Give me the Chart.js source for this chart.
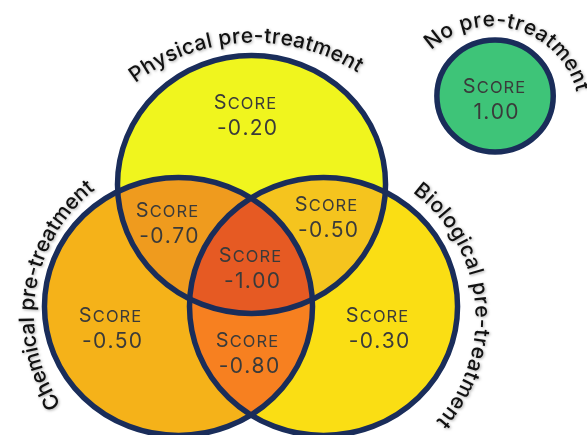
<!DOCTYPE html>
<html>
<head>
<meta charset="utf-8">
<script src="https://cdn.jsdelivr.net/npm/chart.js@4.4.1/dist/chart.umd.min.js"></script>
<style>
  html, body { margin: 0; padding: 0; background: #ffffff; }
  #wrap { width: 587px; height: 435px; position: relative; }
</style>
</head>
<body>
<div id="wrap"><canvas id="c"></canvas></div>
<script>
// ---- data ----
const setNames = ['Physical pre-treatment', 'Chemical pre-treatment', 'Biological pre-treatment', 'No pre-treatment'];
const setX = [242.1, 171.8, 311.4, 476.5];
const setY = [184.5, 306.5, 306.5, 96];
const setR = [129, 129, 129, 56];

const regionNames = ['Physical only', 'Chemical only', 'Biological only', 'Physical + Chemical',
  'Physical + Biological', 'Chemical + Biological', 'All three', 'None'];
const regionSets = [[0], [1], [2], [0, 1], [0, 2], [1, 2], [0, 1, 2], [3]];
const regionScores = [-0.20, -0.50, -0.30, -0.70, -0.50, -0.80, -1.00, 1.00];
const scoreWord = 'Score';

// ---- layout / style (kept apart from data) ----
const labelX = [235.8, 105.9, 362.9, 160.7, 313.8, 237.7, 240.6, 475.5];
const labelY = [109, 322, 322, 217, 211, 347, 262, 93];
const regionColors = ['#f0f51e', '#f5b219', '#fade14', '#ef9b1e', '#f5c41e', '#f78020', '#e65a23', '#3ec478'];
// arc for each set name: centre (data coords), radius (px), first / last glyph angle (deg)
const arcCX = [244.3, 186.8, 307.9, 473.0];
const arcCY = [236.3, 315.4, 317.7, 114.4];
const arcR = [200, 166.5, 162, 94.4];
const arcStart = [-125.7, 148.8, -51, -128];
const arcEnd = [-58.6, 230.6, 40.5, -17];

const vennPlugin = {
  id: 'venn',
  afterDatasetsDraw(chart) {
    const ctx = chart.ctx;
    const xs = chart.scales.x, ys = chart.scales.y;
    const E = setX.map((x, i) => ({
      cx: xs.getPixelForValue(x),
      cy: ys.getPixelForValue(setY[i]),
      rx: xs.getPixelForValue(x + setR[i]) - xs.getPixelForValue(x),
      ry: ys.getPixelForValue(setY[i] + setR[i]) - ys.getPixelForValue(setY[i])
    }));
    const path = (e) => { ctx.beginPath(); ctx.ellipse(e.cx, e.cy, e.rx, e.ry, 0, 0, Math.PI * 2); };

    // region fills
    const order = regionSets.map((s, i) => i).sort((a, b) => regionSets[a].length - regionSets[b].length);
    order.forEach(i => {
      const s = regionSets[i];
      ctx.save();
      for (let k = 0; k < s.length - 1; k++) { path(E[s[k]]); ctx.clip(); }
      path(E[s[s.length - 1]]);
      ctx.fillStyle = regionColors[i];
      ctx.fill();
      ctx.restore();
    });
    // outlines
    ctx.save();
    ctx.lineWidth = 5.5;
    ctx.strokeStyle = '#1a2d5a';
    E.forEach(e => { path(e); ctx.stroke(); });
    ctx.restore();

    // score labels
    const fam = 'Inter, "Open Sans", sans-serif';
    const drawSpaced = (txt, x, y, font, sp) => {
      ctx.font = font;
      for (const ch of txt) { ctx.fillText(ch, x, y); x += ctx.measureText(ch).width + sp; }
      return x;
    };
    const spacedW = (txt, font, sp) => {
      ctx.font = font;
      let w = 0; for (const ch of txt) w += ctx.measureText(ch).width + sp;
      return w;
    };
    ctx.save();
    ctx.fillStyle = '#3a3a3a';
    ctx.textAlign = 'left';
    ctx.textBaseline = 'alphabetic';
    regionScores.forEach((v, i) => {
      const x = xs.getPixelForValue(labelX[i]);
      const y = ys.getPixelForValue(labelY[i]);
      const big = '400 20px ' + fam, small = '400 16.5px ' + fam, sp = 1.1;
      const first = scoreWord[0].toUpperCase(), rest = scoreWord.slice(1).toUpperCase();
      const w = spacedW(first, big, sp) + spacedW(rest, small, sp) - sp;
      let cx = x - w / 2;
      cx = drawSpaced(first, cx, y, big, sp);
      drawSpaced(rest, cx, y, small, sp);
      const numFont = '400 21px ' + fam, nsp = 1.3;
      const txt = v.toFixed(2);
      const nw = spacedW(txt, numFont, nsp) - nsp;
      drawSpaced(txt, x + 2 - nw / 2, y + 26, numFont, nsp);
    });
    ctx.restore();

    // curved set names
    ctx.save();
    ctx.fillStyle = '#111111';
    ctx.textAlign = 'center';
    ctx.textBaseline = 'middle';
    ctx.shadowColor = 'rgba(0,0,0,0.35)';
    ctx.shadowBlur = 3;
    ctx.shadowOffsetX = 1;
    ctx.shadowOffsetY = 1;
    ctx.font = '500 21px ' + fam;
    setNames.forEach((name, i) => {
      const R = arcR[i];
      const a0 = arcStart[i] * Math.PI / 180, a1 = arcEnd[i] * Math.PI / 180;
      const chars = [...name];
      const ws = chars.map(ch => ctx.measureText(ch).width);
      const natural = ws.reduce((a, b) => a + b, 0) - ws[0] / 2 - ws[ws.length - 1] / 2;
      const sp = (R * (a1 - a0) - natural) / (chars.length - 1);
      let a = a0;
      ctx.save();
      ctx.translate(xs.getPixelForValue(arcCX[i]), ys.getPixelForValue(arcCY[i]));
      chars.forEach((ch, k) => {
        ctx.save();
        ctx.rotate(a);
        ctx.translate(R, 0);
        ctx.rotate(Math.PI / 2);
        ctx.fillText(ch, 0, 0);
        ctx.restore();
        if (k < chars.length - 1) a += (ws[k] / 2 + ws[k + 1] / 2 + sp) / R;
      });
      ctx.restore();
    });
    ctx.restore();
  }
};

new Chart(document.getElementById('c'), {
  type: 'bubble',
  data: {
    datasets: [{
      label: 'Sets',
      data: setX.map((x, i) => ({ x: x, y: setY[i], r: 0, name: setNames[i] })),
      backgroundColor: 'rgba(0,0,0,0)',
      borderWidth: 0
    }]
  },
  options: {
    responsive: true,
    maintainAspectRatio: false,
    animation: false,
    layout: { padding: 0 },
    plugins: { legend: { display: false }, tooltip: { enabled: false }, title: { display: false } },
    scales: {
      x: { type: 'linear', min: 0, max: 565, display: false },
      y: { type: 'linear', min: 0, max: 435, reverse: true, display: false }
    }
  },
  plugins: [vennPlugin]
});
</script>
</body>
</html>
